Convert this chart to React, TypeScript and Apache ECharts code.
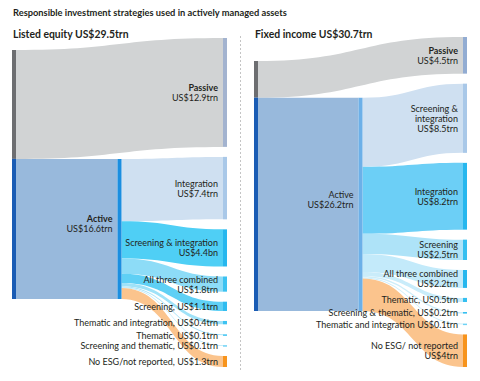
import React, { useEffect, useRef } from "react";
import * as echarts from "echarts";

// ---------- data ----------
const chartTitle = "Responsible investment strategies used in actively managed assets";

const equityTitle = "Listed equity US$29.5trn";
const equityTotal = 29.5;
const equityPassive = 12.9;
const equityActive = 16.6;
const equityPassiveLabel = ["Passive", "US$12.9trn"];
const equityActiveLabel = ["Active", "US$16.6trn"];
const equityStrategies = [
  "Integration",
  "Screening & integration",
  "All three combined",
  "Screening",
  "Thematic and integration",
  "Thematic",
  "Screening and thematic",
  "No ESG/not reported",
];
const equityValues = [7.4, 4.4, 1.8, 1.1, 0.4, 0.1, 0.1, 1.3];
const equityLabels = [
  ["Integration", "US$7.4trn"],
  ["Screening & integration", "US$4.4bn"],
  ["All three combined", "US$1.8trn"],
  ["Screening, US$1.1trn"],
  ["Thematic and integration, US$0.4trn"],
  ["Thematic, US$0.1trn"],
  ["Screening and thematic, US$0.1trn"],
  ["No ESG/not reported, US$1.3trn"],
];

const fixedTitle = "Fixed income US$30.7trn";
const fixedTotal = 30.7;
const fixedPassive = 4.5;
const fixedActive = 26.2;
const fixedPassiveLabel = ["Passive", "US$4.5trn"];
const fixedActiveLabel = ["Active", "US$26.2trn"];
const fixedStrategies = [
  "Screening & integration",
  "Integration",
  "Screening",
  "All three combined",
  "Thematic",
  "Screening & thematic",
  "Thematic and integration",
  "No ESG/ not reported",
];
const fixedValues = [8.5, 8.2, 2.5, 2.2, 0.5, 0.2, 0.1, 4.0];
const fixedLabels = [
  ["Screening &", "integration", "US$8.5trn"],
  ["Integration", "US$8.2trn"],
  ["Screening", "US$2.5trn"],
  ["All three combined", "US$2.2trn"],
  ["Thematic, US0.5trn"],
  ["Screening & thematic, US$0.2trn"],
  ["Thematic and integration US$0.1trn"],
  ["No ESG/ not reported", "US$4trn"],
];

// ---------- styles ----------
const FONT = "Lato";
const TEXT = "#231f20";
const BAR_W = 4;
const GAP_PX = 10;
const LINE_H = 10;
const ACTIVE_LABEL_SHIFT = -5;

const passiveFlow = "#d1d3d4";
const activeFlow = "#98b9dc";
const totalPassiveBar = "#6d6e71";
const totalActiveBar = "#1a5cb4";

const equityStyle = {
  left: 12, top: 38, width: 211, height: 329, col0Offset: 12,
  activeBold: true,
  activeBar: "#1b8ee0",
  passiveBar: "#a3b3cf",
  flows: ["#cfe0f1", "#4fcff5", "#8ddcf7", "#5fd0f5", "#9fe2f8", "#a9e4f8", "#b6e8f9", "#fbc48d"],
  bars: ["#a9c8e8", "#26b7ee", "#3cc2f1", "#2fbcf0", "#3cc2f1", "#3cc2f1", "#6ed2f5", "#f7941d"],
};
const fixedStyle = {
  left: 254, top: 37, width: 209, height: 330, col0Offset: 24,
  activeBold: false,
  activeBar: "#6cb0e8",
  passiveBar: "#92acd2",
  flows: ["#cfe0f1", "#6ccff6", "#aee3f8", "#c3eafa", "#c9ecfa", "#cdeefa", "#cdeefa", "#fbc48d"],
  bars: ["#a9c8e8", "#27b7ee", "#35bff0", "#27b7ee", "#35bff0", "#35bff0", "#6ed2f5", "#f7941d"],
};

type Meta = { kind: "ribbon" | "bar"; color: string; label?: string[]; boldFirst?: boolean; dy?: number };

function buildPanel(
  total: number, passive: number, active: number, values: number[],
  labels: string[][], passiveLabel: string[], activeLabel: string[], st: any
) {
  const n = values.length + 1;
  const M = total / (1 - ((n - 1) * GAP_PX) / st.height);
  const g = (GAP_PX * M) / st.height;
  const off = (st.col0Offset * M) / st.height;
  const data: number[][] = [];
  const meta: Meta[] = [];
  const rightNodes: [number, number][] = [];
  let y = 0;
  [passive, ...values].forEach((v) => {
    rightNodes.push([y, y + v]);
    y += v + g;
  });
  // ribbons
  data.push([0, off, off + passive, 2, rightNodes[0][0], rightNodes[0][1]]);
  meta.push({ kind: "ribbon", color: passiveFlow });
  data.push([0, off + passive, off + total, 1, off + passive, off + total]);
  meta.push({ kind: "ribbon", color: activeFlow });
  let ay = off + passive;
  values.forEach((v, i) => {
    const t = rightNodes[i + 1];
    data.push([1, ay, ay + v, 2, t[0], t[1]]);
    meta.push({ kind: "ribbon", color: st.flows[i] });
    ay += v;
  });
  // bars
  data.push([0, off, off + passive, 0, 0, 0]);
  meta.push({ kind: "bar", color: totalPassiveBar });
  data.push([0, off + passive, off + total, 0, 0, 0]);
  meta.push({ kind: "bar", color: totalActiveBar });
  data.push([1, off + passive, off + passive + active, 0, 0, 0]);
  meta.push({ kind: "bar", color: st.activeBar, label: activeLabel, boldFirst: st.activeBold, dy: ACTIVE_LABEL_SHIFT });
  data.push([2, rightNodes[0][0], rightNodes[0][1], 0, 0, 0]);
  meta.push({ kind: "bar", color: st.passiveBar, label: passiveLabel, boldFirst: true });
  values.forEach((v, i) => {
    const t = rightNodes[i + 1];
    data.push([2, t[0], t[1], 0, 0, 0]);
    meta.push({ kind: "bar", color: st.bars[i], label: labels[i] });
  });
  return { data, meta, M };
}

function makeRender(meta: Meta[]) {
  return (params: any, api: any) => {
    const m = meta[params.dataIndex];
    const s0 = api.value(0), y0t = api.value(1), y0b = api.value(2);
    if (m.kind === "ribbon") {
      const s1 = api.value(3), y1t = api.value(4), y1b = api.value(5);
      const a = api.coord([s0, y0t]);
      const b = api.coord([s0, y0b]);
      const c = api.coord([s1, y1t]);
      const d = api.coord([s1, y1b]);
      const x0 = a[0] + BAR_W;
      const x1 = c[0];
      const xm = (x0 + x1) / 2;
      const path =
        `M${x0},${a[1]}C${xm},${a[1]} ${xm},${c[1]} ${x1},${c[1]}` +
        `L${x1},${d[1]}C${xm},${d[1]} ${xm},${b[1]} ${x0},${b[1]}Z`;
      return { type: "path", shape: { pathData: path }, style: { fill: m.color } };
    }
    const pt = api.coord([s0, y0t]);
    const pb = api.coord([s0, y0b]);
    const h = Math.max(pb[1] - pt[1], 1.5);
    const children: any[] = [
      { type: "rect", shape: { x: pt[0], y: pt[1], width: BAR_W, height: h }, style: { fill: m.color } },
    ];
    if (m.label) {
      const cy = pt[1] + h / 2 + (m.dy || 0);
      const nl = m.label.length;
      m.label.forEach((line, i) => {
        children.push({
          type: "text",
          x: pt[0] - 5,
          y: cy + (i - (nl - 1) / 2) * LINE_H,
          style: {
            text: line,
            fill: TEXT,
            fontFamily: FONT,
            fontSize: 9,
            fontWeight: m.boldFirst && i === 0 ? "bold" : "normal",
            align: "right",
            verticalAlign: "middle",
          },
        });
      });
    }
    return { type: "group", children };
  };
}

export default function App() {
  const ref = useRef<HTMLDivElement>(null);
  useEffect(() => {
    document.body.style.margin = "0";
    if (!ref.current) return;
    const chart = echarts.init(ref.current, undefined, { renderer: "svg" });
    const eq = buildPanel(equityTotal, equityPassive, equityActive, equityValues, equityLabels,
      equityPassiveLabel, equityActiveLabel, equityStyle);
    const fx = buildPanel(fixedTotal, fixedPassive, fixedActive, fixedValues, fixedLabels,
      fixedPassiveLabel, fixedActiveLabel, fixedStyle);
    const grids = [equityStyle, fixedStyle].map((s) => ({
      left: s.left, top: s.top, width: s.width, height: s.height, containLabel: false,
    }));
    const option: any = {
      animation: false,
      grid: grids,
      xAxis: [0, 1].map((i) => ({ type: "value", gridIndex: i, min: 0, max: 2, show: false })),
      yAxis: [eq.M, fx.M].map((M, i) => ({
        type: "value", gridIndex: i, min: 0, max: M, inverse: true, show: false,
      })),
      graphic: [
        {
          type: "text", left: 13, top: 8,
          style: { text: chartTitle, fill: TEXT, fontFamily: FONT, fontSize: 9.3, fontWeight: "bold" },
        },
        {
          type: "text", left: 13, top: 29,
          style: { text: equityTitle, fill: TEXT, fontFamily: FONT, fontSize: 10.4, fontWeight: "bold" },
        },
        {
          type: "text", left: 255, top: 29,
          style: { text: fixedTitle, fill: TEXT, fontFamily: FONT, fontSize: 10.4, fontWeight: "bold" },
        },
        {
          type: "line",
          shape: { x1: 240.5, y1: 36, x2: 240.5, y2: 372 },
          style: { stroke: "#c4c4c4", lineWidth: 1, lineDash: [2, 2] },
        },
      ],
      series: [
        {
          type: "custom", name: "Listed equity", xAxisIndex: 0, yAxisIndex: 0,
          data: eq.data, renderItem: makeRender(eq.meta), clip: false, silent: true,
        },
        {
          type: "custom", name: "Fixed income", xAxisIndex: 1, yAxisIndex: 1,
          data: fx.data, renderItem: makeRender(fx.meta), clip: false, silent: true,
        },
      ],
    };
    chart.setOption(option);
    return () => chart.dispose();
  }, []);
  return <div ref={ref} style={{ width: 480, height: 381 }} />;
}
